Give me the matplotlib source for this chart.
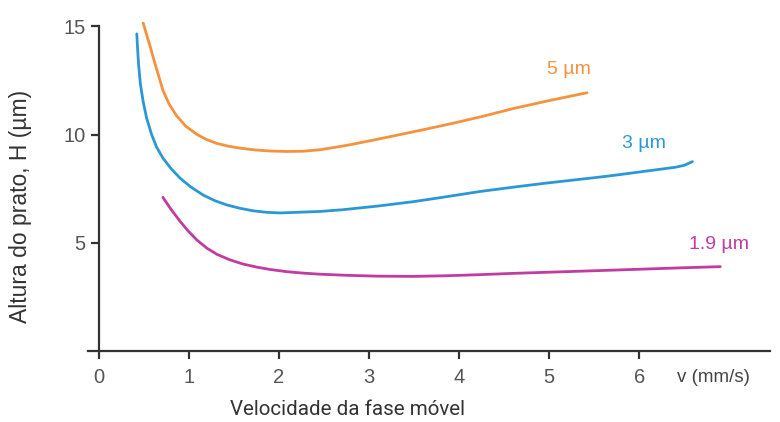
import numpy as np
import matplotlib
matplotlib.use("Agg")
import matplotlib.pyplot as plt

# Van Deemter curves: plate height vs mobile phase velocity, per particle size
v_5um = [0.49, 0.53, 0.57, 0.61, 0.66, 0.71, 0.78, 0.86, 0.96, 1.09, 1.20, 1.31, 1.44, 1.57, 1.73, 1.90, 2.08, 2.27, 2.46, 2.75, 3.02, 3.31, 3.62, 3.94, 4.27, 4.60, 5.00, 5.42]
h_5um = [15.17, 14.6, 14.05, 13.45, 12.75, 12.05, 11.4, 10.88, 10.4, 10.0, 9.76, 9.59, 9.46, 9.37, 9.29, 9.24, 9.22, 9.23, 9.3, 9.5, 9.72, 9.97, 10.24, 10.53, 10.85, 11.2, 11.57, 11.93]

v_3um = [0.42, 0.43, 0.44, 0.46, 0.49, 0.53, 0.585, 0.64, 0.71, 0.80, 0.90, 1.02, 1.16, 1.29, 1.42, 1.56, 1.71, 1.86, 2.01, 2.27, 2.46, 2.71, 3.10, 3.49, 3.86, 4.23, 4.60, 4.97, 5.27, 5.57, 5.80, 6.00, 6.20, 6.40, 6.50, 6.59]
h_3um = [14.65, 13.9, 13.24, 12.35, 11.54, 10.75, 10.0, 9.42, 8.92, 8.43, 7.99, 7.58, 7.2, 6.94, 6.75, 6.6, 6.48, 6.41, 6.38, 6.42, 6.45, 6.53, 6.7, 6.9, 7.13, 7.37, 7.57, 7.76, 7.9, 8.04, 8.16, 8.27, 8.38, 8.49, 8.58, 8.75]

v_19um = [0.71, 0.80, 0.90, 0.99, 1.09, 1.20, 1.31, 1.45, 1.60, 1.75, 1.90, 2.08, 2.27, 2.46, 2.75, 3.10, 3.49, 3.86, 4.23, 4.60, 4.97, 5.57, 6.00, 6.50, 6.90]
h_19um = [7.1, 6.55, 6.0, 5.55, 5.12, 4.75, 4.47, 4.22, 4.02, 3.88, 3.77, 3.67, 3.6, 3.55, 3.5, 3.46, 3.45, 3.48, 3.53, 3.59, 3.64, 3.72, 3.78, 3.85, 3.9]

curve_labels = ["5 \u00b5m", "3 \u00b5m", "1.9 \u00b5m"]
colors = ["#f5923e", "#2b98d6", "#c23ba0"]
label_pos = [(5.22, 13.0), (6.05, 9.6), (6.88, 4.9)]

x_ticks = [0, 1, 2, 3, 4, 5, 6]
y_ticks = [5, 10, 15]

plt.rcParams["font.family"] = ["Liberation Sans", "DejaVu Sans"]

fig = plt.figure(figsize=(7.8, 4.22), dpi=100)
ax = fig.add_axes([0.113, 0.168, 0.874, 0.78])

for v, h, c in zip([v_5um, v_3um, v_19um], [h_5um, h_3um, h_19um], colors):
    ax.plot(v, h, color=c, lw=2.0, solid_capstyle="round", solid_joinstyle="round")

for lab, (x, y), c in zip(curve_labels, label_pos, colors):
    ax.text(x, y, lab, color=c, fontsize=14, ha="center", va="center")

ax.set_xlim(-0.12, 7.45)
ax.set_ylim(0, 15.2)
ax.spines["top"].set_visible(False)
ax.spines["right"].set_visible(False)
ax.spines["left"].set_position(("data", 0))
ax.spines["left"].set_bounds(0, 15)
for s in ["left", "bottom"]:
    ax.spines[s].set_color("#333333")
    ax.spines[s].set_linewidth(1.6)

ax.set_xticks(x_ticks)
ax.set_yticks(y_ticks)
ax.tick_params(axis="both", colors="#333333", width=1.6, length=6,
               labelsize=14.5, labelcolor="#555555")
ax.tick_params(axis="x", pad=6)

ax.text(6.82, -1.2, "v (mm/s)", fontsize=13.5, color="#444444", ha="center", va="center")
ax.set_xlabel("Velocidade da fase m\u00f3vel", fontsize=14.8, color="#333333",
              family=["Roboto", "DejaVu Sans"])
ax.xaxis.set_label_coords(0.381, -0.148)
ax.set_ylabel("Altura do prato, H (\u00b5m)", fontsize=16.5, color="#333333")
ax.yaxis.set_label_coords(-0.082, 0.44)

fig.savefig("out.png", dpi=100, facecolor="white")
